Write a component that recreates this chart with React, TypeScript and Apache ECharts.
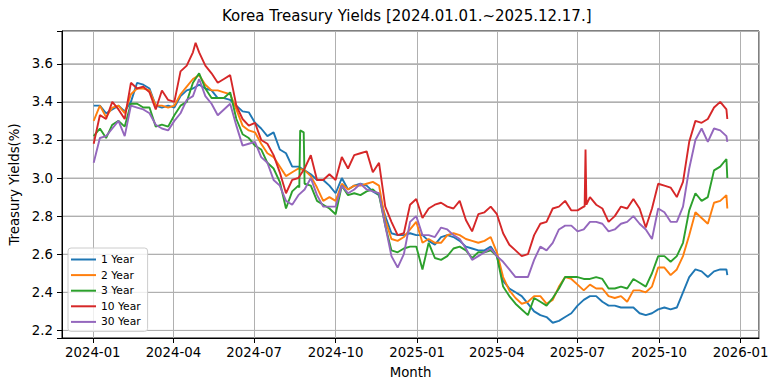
import React, { useEffect, useRef } from 'react';
import * as echarts from 'echarts';

const DAY = 86400000;
const firstDate = Date.UTC(2024, 0, 2);
const lastDate = Date.UTC(2025, 11, 17);
const weekCount = 103;
const sampleDates: number[] = Array.from({ length: weekCount }, (_, k) => firstDate + k * 7 * DAY).concat([lastDate]);

const titleText = 'Korea Treasury Yields [2024.01.01.~2025.12.17.]';
const seriesNames = ['1 Year', '2 Year', '3 Year', '10 Year', '30 Year'];
const colors = ['#1f77b4', '#ff7f0e', '#2ca02c', '#d62728', '#9467bd'];
const yTicks = [2.2, 2.4, 2.6, 2.8, 3.0, 3.2, 3.4, 3.6];

const yield1Y = [
  3.38, 3.38, 3.34, 3.36, 3.38, 3.35, 3.40, 3.50, 3.49, 3.47,
  3.38, 3.37, 3.38, 3.37, 3.43, 3.46, 3.47, 3.49, 3.47, 3.46,
  3.42, 3.42, 3.41, 3.38, 3.35, 3.345, 3.29, 3.26, 3.22, 3.24,
  3.15, 3.13, 3.06, 3.06, 3.04, 3.02, 2.99, 2.99, 2.96, 2.92,
  3.00, 2.94, 2.96, 2.97, 2.96, 2.93, 2.91, 2.80, 2.71, 2.70,
  2.70, 2.71, 2.70, 2.70, 2.67, 2.65, 2.69, 2.70, 2.69, 2.67,
  2.64, 2.63, 2.62, 2.62, 2.64, 2.59, 2.46, 2.42, 2.40, 2.38,
  2.34, 2.30, 2.28, 2.27, 2.24, 2.25, 2.27, 2.29, 2.33, 2.36,
  2.38, 2.38, 2.35, 2.33, 2.33, 2.32, 2.32, 2.32, 2.29, 2.28,
  2.29, 2.31, 2.32, 2.31, 2.32, 2.40, 2.48, 2.52, 2.51, 2.48,
  2.51, 2.52, 2.52, 2.49,
];

const yield2Y = [
  3.30, 3.38, 3.32, 3.37, 3.38, 3.34, 3.44, 3.47, 3.47, 3.46,
  3.38, 3.38, 3.37, 3.38, 3.44, 3.48, 3.52, 3.54, 3.49, 3.46,
  3.46, 3.45, 3.44, 3.36, 3.275, 3.25, 3.24, 3.18, 3.13, 3.11,
  3.06, 3.01, 3.03, 3.05, 3.04, 3.01, 2.95, 2.88, 2.90, 2.88,
  2.97, 2.94, 2.96, 2.96, 2.97, 2.98, 2.96, 2.78, 2.68, 2.67,
  2.69, 2.73, 2.77, 2.66, 2.68, 2.66, 2.66, 2.70, 2.71, 2.70,
  2.68, 2.67, 2.66, 2.67, 2.69, 2.61, 2.48, 2.41, 2.37, 2.34,
  2.35, 2.38, 2.38, 2.34, 2.36, 2.43, 2.48, 2.47, 2.44, 2.41,
  2.44, 2.42, 2.42, 2.38, 2.37, 2.38, 2.35, 2.41, 2.41, 2.40,
  2.43, 2.53, 2.53, 2.49, 2.52, 2.59, 2.70, 2.82, 2.79, 2.76,
  2.87, 2.88, 2.91, 2.84,
];

const yield3Y = [
  3.22, 3.26, 3.21, 3.28, 3.30, 3.27, 3.39, 3.39, 3.37, 3.37,
  3.27, 3.28, 3.27, 3.33, 3.38, 3.40, 3.50, 3.55, 3.47, 3.42,
  3.42, 3.42, 3.45, 3.31, 3.23, 3.21, 3.17, 3.15, 3.08, 3.05,
  2.98, 2.84, 2.93, 2.96, 2.97, 2.96, 2.88, 2.86, 2.84, 2.81,
  2.96, 2.91, 2.92, 2.91, 2.93, 2.94, 2.91, 2.75, 2.62, 2.61,
  2.63, 2.64, 2.64, 2.52, 2.66, 2.58, 2.57, 2.59, 2.63, 2.64,
  2.62, 2.58, 2.61, 2.61, 2.62, 2.59, 2.43, 2.38, 2.34, 2.31,
  2.28, 2.37, 2.35, 2.33, 2.37, 2.42, 2.48, 2.48, 2.48, 2.47,
  2.47, 2.48, 2.47, 2.42, 2.42, 2.43, 2.42, 2.47, 2.45, 2.43,
  2.50, 2.59, 2.59, 2.56, 2.59, 2.66, 2.83, 2.92, 2.88, 2.90,
  3.04, 3.06, 3.10, 3.00,
];

const yield10Y = [
  3.18, 3.33, 3.31, 3.40, 3.36, 3.31, 3.50, 3.47, 3.48, 3.45,
  3.36, 3.46, 3.41, 3.40, 3.56, 3.59, 3.66, 3.66, 3.59, 3.55,
  3.50, 3.52, 3.54, 3.38, 3.31, 3.275, 3.29, 3.20, 3.18, 3.12,
  3.03, 2.92, 2.99, 3.00, 3.05, 3.12, 2.99, 2.99, 3.02, 2.99,
  3.11, 3.05, 3.12, 3.13, 3.14, 3.03, 3.08, 2.85, 2.77, 2.70,
  2.71, 2.86, 2.89, 2.79, 2.84, 2.86, 2.87, 2.85, 2.84, 2.88,
  2.78, 2.72, 2.81, 2.82, 2.85, 2.81, 2.71, 2.65, 2.62, 2.59,
  2.60, 2.70, 2.76, 2.77, 2.84, 2.85, 2.88, 2.83, 2.83, 2.85,
  2.90, 2.86, 2.84, 2.77, 2.80, 2.85, 2.84, 2.89, 2.84, 2.74,
  2.84, 2.97, 2.96, 2.95, 2.90, 2.98, 3.19, 3.30, 3.29, 3.31,
  3.37, 3.40, 3.36, 3.31,
];

const yield30Y = [
  3.08, 3.21, 3.22, 3.26, 3.30, 3.22, 3.38, 3.37, 3.36, 3.34,
  3.28, 3.26, 3.25, 3.30, 3.34, 3.41, 3.43, 3.52, 3.43, 3.39,
  3.33, 3.36, 3.39, 3.275, 3.17, 3.18, 3.19, 3.11, 3.08, 2.99,
  2.96, 2.88, 2.86, 2.91, 2.94, 3.00, 2.91, 2.85, 2.85, 2.85,
  2.96, 2.92, 2.94, 2.97, 2.94, 2.93, 2.92, 2.75, 2.59, 2.53,
  2.60, 2.77, 2.80, 2.70, 2.70, 2.69, 2.74, 2.73, 2.70, 2.68,
  2.63, 2.57, 2.59, 2.61, 2.63, 2.59, 2.56, 2.52, 2.48, 2.48,
  2.48, 2.57, 2.64, 2.62, 2.66, 2.73, 2.75, 2.75, 2.72, 2.73,
  2.77, 2.77, 2.76, 2.72, 2.73, 2.76, 2.77, 2.80, 2.76, 2.73,
  2.68, 2.84, 2.82, 2.77, 2.77, 2.85, 3.05, 3.20, 3.26, 3.19,
  3.26, 3.25, 3.22, 3.19,
];

// extra daily readings for short-lived spikes
const extra1Y: [string, number][] = [];
const extra2Y: [string, number][] = [];
const extra3Y: [string, number][] = [['2024-08-21', 2.95], ['2024-08-22', 3.25], ['2024-08-26', 3.24]];
const extra10Y: [string, number][] = [['2024-04-26', 3.71], ['2025-07-09', 2.85], ['2025-07-10', 3.15], ['2025-07-11', 2.86]];
const extra30Y: [string, number][] = [];

const seriesValues = [yield1Y, yield2Y, yield3Y, yield10Y, yield30Y];
const seriesExtras = [extra1Y, extra2Y, extra3Y, extra10Y, extra30Y];

function buildData(values: number[], extras: [string, number][]) {
  const pts: [number, number][] = sampleDates.map((d, i) => [d, values[i]] as [number, number]);
  extras.forEach(([s, v]) => pts.push([Date.parse(s + 'T00:00:00Z'), v]));
  pts.sort((a, b) => a[0] - b[0]);
  return pts;
}

const FONT = 'DejaVu Sans';

export default function App() {
  const ref = useRef<HTMLDivElement>(null);
  useEffect(() => {
    if (!ref.current) return;
    const chart = echarts.init(ref.current, undefined, { renderer: 'svg' });
    const xMin = firstDate - 35.75 * DAY;
    const xMax = lastDate + 35.75 * DAY;
    chart.setOption({
      animation: false,
      useUTC: true,
      backgroundColor: '#ffffff',
      textStyle: { fontFamily: FONT },
      title: {
        text: titleText,
        left: 222,
        top: 8,
        padding: 0,
        textStyle: { fontSize: 15, fontWeight: 'normal', color: '#000', fontFamily: FONT },
      },
      grid: {
        left: 62,
        right: 19,
        top: 31,
        bottom: 53,
        show: true,
        borderColor: '#000',
        borderWidth: 1,
        backgroundColor: 'transparent',
        containLabel: false,
        outerBoundsMode: 'none',
      },
      legend: {
        orient: 'vertical',
        left: 68,
        top: 248,
        data: seriesNames,
        icon: 'rect',
        itemWidth: 25,
        itemHeight: 2,
        itemGap: 2.6,
        padding: [5, 7, 3, 3],
        backgroundColor: 'rgba(255,255,255,0.8)',
        borderColor: '#cccccc',
        borderWidth: 1,
        borderRadius: 3,
        textStyle: { fontSize: 10.7, color: '#000', lineHeight: 13, fontFamily: FONT },
      },
      xAxis: {
        type: 'time',
        min: xMin,
        max: xMax,
        splitNumber: 7,
        name: 'Month',
        nameLocation: 'middle',
        nameGap: 28,
        nameTextStyle: { fontSize: 13.3, color: '#000', fontFamily: FONT },
        axisLine: { show: true, lineStyle: { color: '#000', width: 1 } },
        axisTick: { show: true, inside: false, length: 5, lineStyle: { color: '#000', width: 1 } },
        axisLabel: {
          color: '#000',
          fontSize: 13.3,
          fontFamily: FONT,
          margin: 8,
          showMinLabel: false,
          showMaxLabel: false,
          formatter: (v: number) => {
            const d = new Date(v);
            return `${d.getUTCFullYear()}-${String(d.getUTCMonth() + 1).padStart(2, '0')}`;
          },
        },
        splitLine: { show: true, lineStyle: { color: '#b0b0b0', width: 1 } },
      },
      yAxis: {
        type: 'value',
        min: 2.16,
        max: 3.772,
        splitNumber: 8,
        minInterval: 0.2,
        maxInterval: 0.2,
        name: 'Treasury Yields(%)',
        nameLocation: 'middle',
        nameGap: 37,
        nameTextStyle: { fontSize: 13.3, color: '#000', fontFamily: FONT },
        axisLine: { show: true, lineStyle: { color: '#000', width: 1 } },
        axisTick: { show: true, inside: false, length: 5, lineStyle: { color: '#000', width: 1 } },
        axisLabel: {
          color: '#000',
          fontSize: 13.3,
          fontFamily: FONT,
          margin: 9,
          customValues: yTicks,
          formatter: (v: number) => v.toFixed(1),
        },
        splitLine: { show: true, lineStyle: { color: '#b0b0b0', width: 1 } },
      },
      series: seriesNames.map((name, i) => ({
        type: 'line',
        name,
        data: buildData(seriesValues[i], seriesExtras[i]),
        symbol: 'none',
        showSymbol: false,
        lineStyle: { width: 1.9, color: colors[i] },
        itemStyle: { color: colors[i] },
        emphasis: { disabled: true },
      })),
    });
    // horizontal grid lines at every y tick, positioned through the chart's own scales
    const px0 = chart.convertToPixel({ xAxisIndex: 0 }, xMin) as number;
    const px1 = chart.convertToPixel({ xAxisIndex: 0 }, xMax) as number;
    const lines = yTicks.map((v) => {
      const py = chart.convertToPixel({ yAxisIndex: 0 }, v) as number;
      return {
        type: 'line',
        silent: true,
        shape: { x1: px0, y1: py, x2: px1, y2: py },
        style: { stroke: '#b0b0b0', lineWidth: 1 },
      };
    });
    chart.setOption({ graphic: lines });
    return () => chart.dispose();
  }, []);
  return (
    <div
      ref={ref}
      style={{ position: 'fixed', left: 0, top: 0, width: 778, height: 391, background: '#fff' }}
    />
  );
}
